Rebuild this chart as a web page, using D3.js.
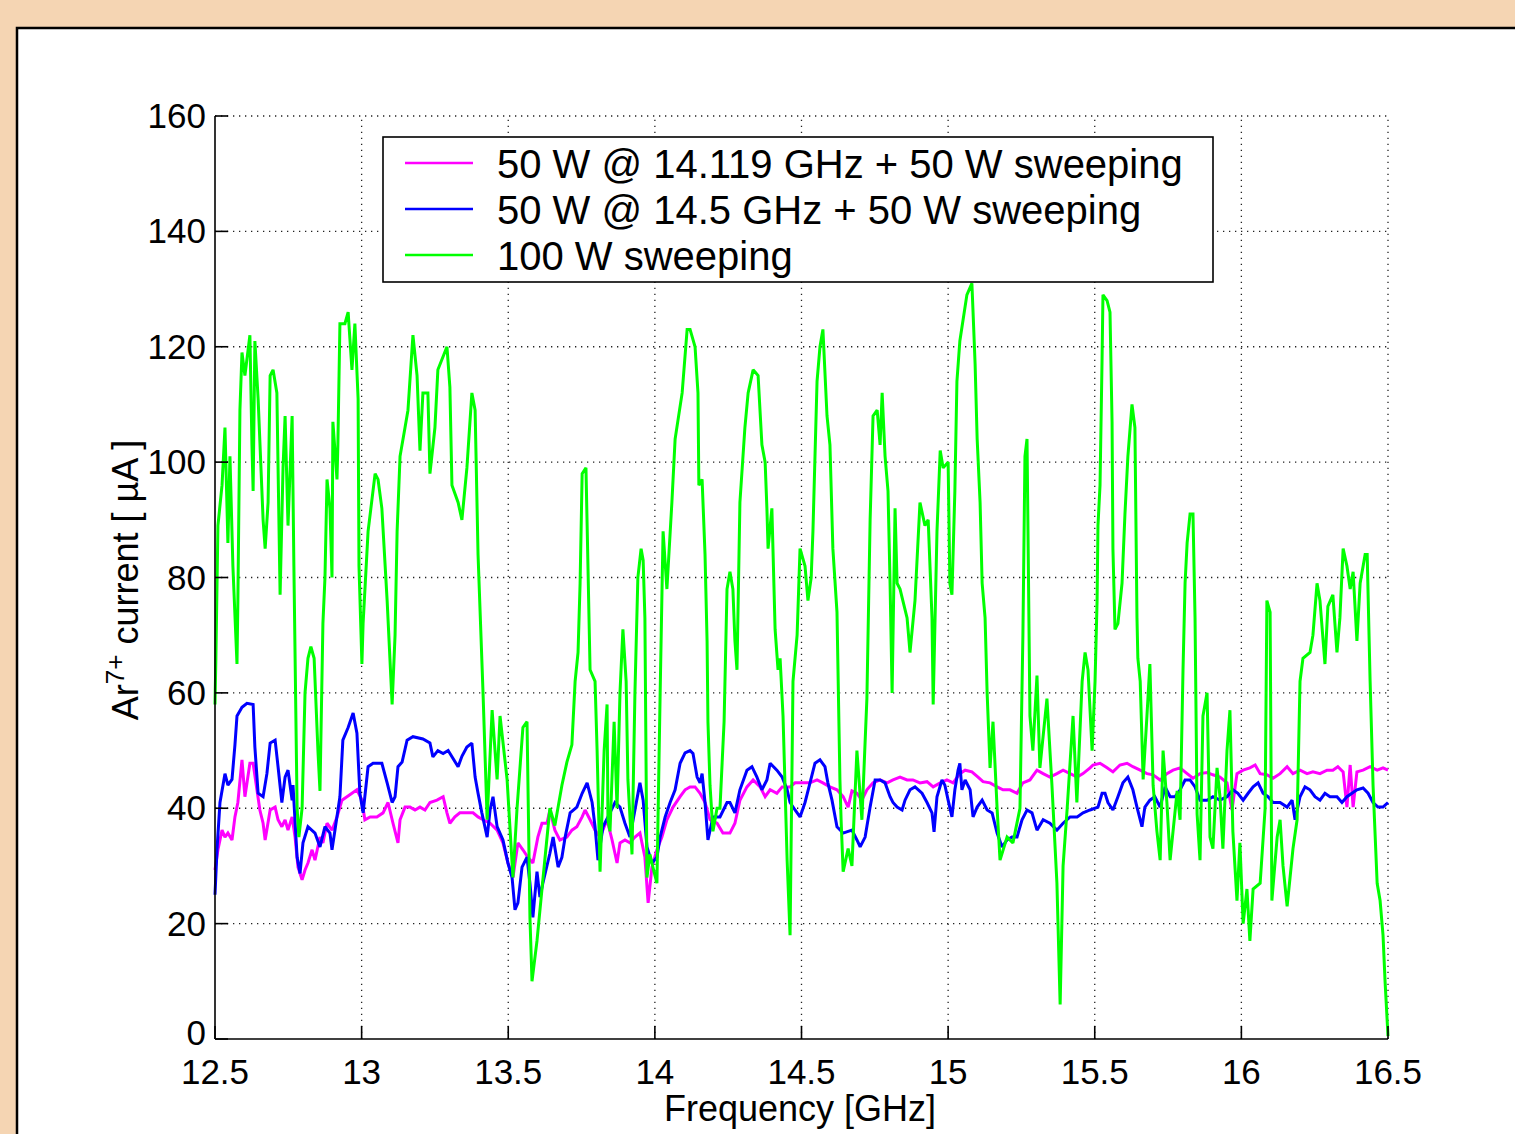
<!DOCTYPE html>
<html><head><meta charset="utf-8">
<script src="https://cdn.jsdelivr.net/npm/d3@7"></script>
<style>body{margin:0;background:#F5D5B3;} svg{display:block;}</style>
</head><body>
<svg id="chart" width="1515" height="1134"></svg>
<script>
// ---------------- DATA ----------------
const xTicks = [12.5, 13, 13.5, 14, 14.5, 15, 15.5, 16, 16.5];
const xTickLabels = ["12.5", "13", "13.5", "14", "14.5", "15", "15.5", "16", "16.5"];
const yTicks = [0, 20, 40, 60, 80, 100, 120, 140, 160];
const yTickLabels = ["0", "20", "40", "60", "80", "100", "120", "140", "160"];
const seriesNames = ["50 W @ 14.119 GHz + 50 W sweeping", "50 W @ 14.5 GHz + 50 W sweeping", "100 W sweeping"];
const seriesColors = ["#FF00FF", "#0000FF", "#00FF00"];

// magenta: 50 W @ 14.119 GHz + 50 W sweeping
const magentaFreq = [12.500,12.510,12.524,12.534,12.544,12.558,12.568,12.578,12.592,12.602,12.619,12.630,12.643,12.653,12.664,12.671,12.688,12.705,12.715,12.728,12.739,12.749,12.763,12.773,12.783,12.797,12.807,12.817,12.831,12.841,12.858,12.868,12.882,12.899,12.916,12.933,12.950,12.967,12.984,13.001,13.011,13.029,13.052,13.073,13.090,13.107,13.124,13.131,13.148,13.165,13.182,13.199,13.216,13.233,13.257,13.278,13.291,13.301,13.318,13.335,13.359,13.380,13.397,13.414,13.438,13.462,13.482,13.499,13.516,13.533,13.550,13.567,13.584,13.601,13.615,13.632,13.642,13.659,13.676,13.700,13.717,13.734,13.752,13.762,13.779,13.796,13.813,13.837,13.854,13.871,13.881,13.898,13.915,13.932,13.949,13.966,13.977,13.990,14.007,14.024,14.041,14.062,14.086,14.103,14.120,14.137,14.154,14.171,14.188,14.212,14.232,14.256,14.273,14.290,14.314,14.335,14.359,14.376,14.393,14.416,14.434,14.461,14.478,14.495,14.529,14.553,14.573,14.597,14.621,14.642,14.659,14.672,14.689,14.706,14.723,14.744,14.768,14.792,14.812,14.836,14.860,14.880,14.904,14.928,14.949,14.973,14.996,15.017,15.040,15.058,15.081,15.102,15.119,15.143,15.167,15.187,15.211,15.235,15.255,15.279,15.303,15.324,15.347,15.371,15.392,15.416,15.440,15.460,15.484,15.494,15.518,15.542,15.562,15.586,15.610,15.630,15.655,15.678,15.699,15.723,15.746,15.767,15.791,15.815,15.835,15.859,15.883,15.903,15.927,15.951,15.968,15.985,16.006,16.029,16.047,16.064,16.087,16.108,16.132,16.156,16.176,16.200,16.224,16.244,16.268,16.292,16.312,16.329,16.347,16.360,16.371,16.381,16.394,16.415,16.439,16.463,16.483,16.500];
const magentaVals = [29.3,32.8,36.2,35,35.7,34.5,38.5,41,48.4,42,47.8,47.8,43.2,39.7,37.4,34.5,39.7,40.2,38,36.8,38,36.2,38.5,35,29.8,27.6,29.3,30.5,32.8,31,35,34,37.4,36.2,38.5,41.4,42,42.6,43.2,41.4,38,38.5,38.5,39.2,41,37.4,34,38,40.2,40.2,39.7,40.2,39.7,41,41.4,42,39.2,37.4,38.5,39.2,39.2,39.2,38.5,38,37.4,36.2,34,30.5,28,34,32.8,31.5,30.5,35,37.4,37.4,39.7,36.2,34.5,35,36.2,36.8,38.5,39.7,38,36.2,35,38,34.5,30.5,34,34.5,34,35,35.7,31.5,23.6,29.8,32.8,35,38,40.2,42,43.2,43.7,43.7,42.6,41,38,37.4,35.7,35.7,37.4,41.4,43.7,44.9,43.7,42,43.2,42.6,43.7,43.7,44.4,44.4,44.4,44.9,44.4,43.7,43.2,42,40.2,43,42.6,41.4,43.2,44.4,44.9,44.4,44.9,45.4,44.9,44.9,44.4,44.6,43.7,44.4,44.9,44.4,46,46.6,46.3,45.4,44.6,44.4,43.7,43.2,43.2,42.6,44.4,44.9,46.6,46,45.4,46,46.6,46,45.4,46,47,47.5,47.8,47,46.3,47.5,47.8,47.2,46.6,46,45.8,44.9,46,46.6,47,46,45.2,46,46.2,45.8,45.4,44.4,39.7,46,46.6,47,47.5,46,45.8,45.2,46,47.2,46,46.6,46,46.3,46,46.6,46.6,47.2,46.3,40.2,47.5,40.2,46.3,46.6,47.2,46.6,47,46.6];

// blue: 50 W @ 14.5 GHz + 50 W sweeping
const blueFreq = [12.500,12.507,12.517,12.534,12.544,12.558,12.568,12.575,12.592,12.609,12.630,12.636,12.647,12.664,12.677,12.688,12.705,12.715,12.728,12.739,12.749,12.763,12.766,12.780,12.790,12.800,12.817,12.841,12.858,12.875,12.892,12.899,12.909,12.926,12.936,12.954,12.971,12.984,12.994,13.005,13.022,13.039,13.069,13.087,13.104,13.114,13.124,13.138,13.155,13.175,13.209,13.233,13.243,13.260,13.278,13.295,13.329,13.342,13.359,13.376,13.387,13.397,13.410,13.428,13.438,13.448,13.462,13.482,13.499,13.513,13.523,13.533,13.547,13.564,13.574,13.584,13.598,13.608,13.618,13.642,13.653,13.670,13.683,13.694,13.711,13.734,13.752,13.769,13.786,13.796,13.806,13.823,13.840,13.864,13.881,13.898,13.915,13.932,13.949,13.960,13.973,13.990,14.007,14.018,14.035,14.052,14.069,14.086,14.103,14.120,14.130,14.144,14.154,14.161,14.171,14.181,14.198,14.222,14.246,14.256,14.273,14.290,14.314,14.331,14.348,14.365,14.382,14.393,14.416,14.434,14.451,14.461,14.478,14.495,14.512,14.529,14.546,14.563,14.580,14.590,14.604,14.621,14.642,14.672,14.689,14.700,14.717,14.734,14.751,14.768,14.785,14.802,14.812,14.826,14.843,14.853,14.870,14.887,14.911,14.928,14.945,14.952,14.962,14.979,14.989,15.000,15.013,15.023,15.034,15.040,15.047,15.058,15.075,15.085,15.099,15.116,15.133,15.150,15.167,15.184,15.201,15.218,15.235,15.252,15.269,15.286,15.303,15.324,15.347,15.371,15.392,15.416,15.440,15.460,15.484,15.511,15.525,15.535,15.545,15.562,15.579,15.596,15.613,15.630,15.644,15.661,15.671,15.688,15.705,15.723,15.740,15.757,15.774,15.791,15.808,15.825,15.842,15.859,15.883,15.903,15.927,15.951,15.971,15.988,16.006,16.023,16.040,16.057,16.074,16.091,16.108,16.132,16.156,16.173,16.183,16.200,16.217,16.234,16.251,16.268,16.285,16.302,16.326,16.343,16.360,16.377,16.394,16.415,16.432,16.449,16.466,16.483,16.500];
const blueVals = [25,33,41,46,44,45,51,56,57.5,58.2,58,50.6,42.6,42,46,51.3,51.8,47.2,41,45.4,46.6,41.4,44,31.5,28.7,34,36.8,35.7,33.3,36.8,35.7,32.8,36.2,42,51.8,54,56.5,53,42.6,39.2,47.2,47.8,47.8,44.4,41,42,47.2,48,51.8,52.4,52,51.3,48.9,50,49.5,50,47.2,49,50.6,51.3,45.4,42.6,39.2,35,39.7,42,36.8,34.5,30.5,28,22.4,23.6,29.8,31.5,27,21.1,29,24.6,27,32.2,35,29.8,31.5,35,39.2,40.2,42.6,44.4,41,36.8,31,36.8,38.5,41,40.2,37.4,35,39.7,44.4,41.4,33.3,30.5,31.5,35,38.5,41,43.2,47.8,49.6,50,49.5,45.4,44.4,46,41,34.5,38.5,38.5,41,41,39.2,43.2,46.6,47.2,45.4,43.2,44.9,47.8,46.6,45.4,43.2,41,39.7,38.5,41,44.4,47.8,48.4,47.2,44.4,41.4,36.8,35.7,36.2,34.5,33.3,35,40.2,44.9,44.9,44.4,42,41,40.2,39.7,41.4,43.2,43.7,42.6,41,39.2,35.9,42,44.9,44,41.4,38.5,43.2,46.6,47.8,43.2,44.9,43.2,38.5,40.2,41.4,39.7,39.2,35.7,33.3,34.5,35,35,38,39.7,39.2,36.2,38,37.4,36.2,37.4,38.5,38.5,39.2,39.7,40.2,42.6,42.6,41,39.7,42,44.4,45.4,43.2,40.2,36.8,40.2,41.4,42,40.2,43.7,42,42,43.2,44.9,44.9,43.7,41.4,41.4,42,41.4,42,43.2,42.6,41.4,42.6,43.7,44.4,42.6,42,41,41,40.2,41.4,38,42,43.7,43.2,42,41.4,42.6,42,42,41,42,42.6,43.2,43.5,42.6,41,40.2,40.2,41];

// green: 100 W sweeping
const greenFreq = [12.500,12.503,12.510,12.524,12.534,12.544,12.551,12.561,12.575,12.578,12.585,12.592,12.602,12.619,12.626,12.630,12.636,12.647,12.664,12.671,12.681,12.688,12.698,12.711,12.722,12.732,12.739,12.749,12.763,12.769,12.780,12.786,12.797,12.807,12.817,12.827,12.838,12.851,12.858,12.868,12.875,12.882,12.892,12.899,12.902,12.916,12.919,12.926,12.943,12.954,12.967,12.977,12.988,12.991,13.001,13.005,13.022,13.046,13.056,13.069,13.087,13.104,13.114,13.121,13.131,13.148,13.158,13.175,13.189,13.199,13.209,13.226,13.233,13.250,13.260,13.291,13.301,13.308,13.329,13.342,13.359,13.376,13.387,13.397,13.414,13.428,13.445,13.462,13.472,13.496,13.516,13.530,13.550,13.564,13.574,13.581,13.598,13.615,13.642,13.659,13.683,13.700,13.717,13.728,13.738,13.745,13.752,13.765,13.769,13.779,13.796,13.803,13.813,13.827,13.837,13.840,13.847,13.861,13.871,13.881,13.891,13.902,13.908,13.922,13.932,13.942,13.953,13.960,13.966,13.973,13.983,13.997,14.007,14.018,14.028,14.041,14.058,14.069,14.093,14.110,14.120,14.137,14.147,14.150,14.161,14.171,14.178,14.181,14.188,14.198,14.212,14.222,14.236,14.246,14.256,14.266,14.273,14.280,14.290,14.307,14.318,14.335,14.352,14.365,14.376,14.382,14.386,14.399,14.410,14.420,14.427,14.437,14.451,14.461,14.471,14.485,14.495,14.512,14.522,14.533,14.539,14.553,14.563,14.573,14.587,14.597,14.607,14.621,14.631,14.635,14.642,14.659,14.672,14.689,14.706,14.723,14.734,14.744,14.758,14.768,14.775,14.785,14.795,14.802,14.809,14.819,14.826,14.836,14.860,14.870,14.887,14.904,14.921,14.932,14.945,14.949,14.962,14.973,14.983,15.000,15.006,15.013,15.023,15.030,15.040,15.064,15.081,15.085,15.092,15.099,15.109,15.116,15.126,15.133,15.143,15.153,15.167,15.177,15.201,15.221,15.245,15.255,15.262,15.269,15.279,15.289,15.303,15.313,15.337,15.354,15.371,15.382,15.392,15.406,15.426,15.439,15.457,15.467,15.477,15.491,15.501,15.508,15.511,15.518,15.525,15.528,15.542,15.552,15.559,15.562,15.569,15.579,15.593,15.603,15.613,15.627,15.637,15.644,15.647,15.655,15.665,15.678,15.688,15.699,15.712,15.723,15.733,15.746,15.757,15.781,15.791,15.801,15.808,15.815,15.825,15.835,15.842,15.849,15.859,15.869,15.883,15.893,15.903,15.917,15.927,15.937,15.951,15.961,15.971,15.985,15.995,16.006,16.019,16.029,16.040,16.064,16.081,16.087,16.098,16.104,16.122,16.132,16.142,16.156,16.166,16.176,16.190,16.200,16.210,16.234,16.244,16.258,16.268,16.285,16.295,16.312,16.326,16.336,16.347,16.360,16.371,16.381,16.394,16.405,16.422,16.429,16.439,16.449,16.463,16.473,16.483,16.490,16.500];
const greenVals = [58,66,89,96,106,86,101,82,65,76,109,119,115,122,103,95,121,111,90,85,93,115,116,112,77,99,108,89,108,82,40,35,40,60,66,68,66,50,43,72,80,97,92,80,107,97,103,124,124,126,116,124,111,82,65,72,88,98,97,92,76,58,70,88,101,106,109,122,115,102,112,112,98,106,116,120,113,96,93,90,99,112,109,84,60,38,57,45,56,45,28,40,54,55,21,10,17,26,40,37,44,48,51,62,67,79,98,99,89,64,62,50,29,50,58,38,36,55,40,60,71,62,45,32,60,80,85,83,73,28,32,29,27,60,88,78,93,104,112,123,123,120,112,96,97,84,69,55,44,36,40,40,55,78,81,78,69,64,93,106,112,116,115,103,100,92,85,92,71,64,66,56,31,18,62,70,85,82,76,80,88,114,120,123,108,103,85,74,45,38,29,33,30,50,38,59,90,108,109,103,112,101,95,79,60,92,79,78,73,67,76,93,89,90,73,58,88,102,99,100,79,77,95,114,121,129,131,126,117,104,93,79,73,60,47,55,40,31,35,34,40,70,101,104,56,50,63,47,59,44,27,6,30,40,56,41,62,67,64,50,62,76,89,96,118,129,128,126,107,85,71,72,79,91,101,110,106,73,66,62,45,56,65,44,36,31,50,41,31,43,38,64,79,86,91,91,73,39,31,56,60,35,33,47,42,33,50,57,36,24,34,20,26,17,26,27,40,76,74,24,35,38,30,23,28,33,38,62,66,67,70,79,76,65,75,77,67,73,85,82,78,81,69,79,84,84,62,44,27,24,18,10,0.5];

// ---------------- CHART ----------------
const svg = d3.select("#chart");
const FONT = "'Liberation Sans', Arial, Helvetica, sans-serif";

// white panel with black frame
svg.append("rect").attr("x", 17).attr("y", 28).attr("width", 1600).attr("height", 1200)
  .attr("fill", "#fff").attr("stroke", "#000").attr("stroke-width", 2.5);

const x = d3.scaleLinear().domain([12.5, 16.5]).range([215, 1388]);
const y = d3.scaleLinear().domain([0, 160]).range([1039, 116]);

// grid
const grid = svg.append("g").attr("stroke", "#222").attr("stroke-width", 1.3)
  .attr("stroke-dasharray", "1.3,4.7");
grid.selectAll(".gx").data(xTicks.slice(1)).join("line")
  .attr("x1", d => x(d)).attr("x2", d => x(d)).attr("y1", y(0)).attr("y2", y(160));
grid.selectAll(".gy").data(yTicks.slice(1)).join("line")
  .attr("x1", x(12.5)).attr("x2", x(16.5)).attr("y1", d => y(d)).attr("y2", d => y(d));

// series
const line = d3.line().x(d => x(d[0])).y(d => y(d[1]));
const series = [
  {f: magentaFreq, v: magentaVals, c: seriesColors[0]},
  {f: blueFreq, v: blueVals, c: seriesColors[1]},
  {f: greenFreq, v: greenVals, c: seriesColors[2]}
];
series.forEach(s => {
  svg.append("path").datum(s.f.map((f, i) => [f, s.v[i]]))
    .attr("d", line).attr("fill", "none").attr("stroke", s.c)
    .attr("stroke-width", 3).attr("stroke-linejoin", "miter").attr("stroke-miterlimit", 2);
});

// axes lines
svg.append("line").attr("x1", x(12.5)).attr("x2", x(12.5)).attr("y1", y(0)).attr("y2", y(160))
  .attr("stroke", "#000").attr("stroke-width", 1.6);
svg.append("line").attr("x1", x(12.5)).attr("x2", x(16.5)).attr("y1", y(0)).attr("y2", y(0))
  .attr("stroke", "#000").attr("stroke-width", 1.6);

// ticks (inward)
svg.selectAll(".tx").data(xTicks).join("line")
  .attr("x1", d => x(d)).attr("x2", d => x(d)).attr("y1", y(0)).attr("y2", y(0) - 13)
  .attr("stroke", "#000").attr("stroke-width", 1.6);
svg.selectAll(".ty").data(yTicks).join("line")
  .attr("x1", x(12.5)).attr("x2", x(12.5) + 13).attr("y1", d => y(d)).attr("y2", d => y(d))
  .attr("stroke", "#000").attr("stroke-width", 1.6);

// tick labels
svg.selectAll(".lx").data(xTicks).join("text")
  .attr("x", d => x(d)).attr("y", 1084).attr("text-anchor", "middle")
  .attr("font-family", FONT).attr("font-size", 35).attr("fill", "#000")
  .text((d, i) => xTickLabels[i]);
svg.selectAll(".ly").data(yTicks).join("text")
  .attr("x", 206).attr("y", d => y(d) + (d === 0 ? 6 : 12)).attr("text-anchor", "end")
  .attr("font-family", FONT).attr("font-size", 35).attr("fill", "#000")
  .text((d, i) => yTickLabels[i]);

// axis titles
svg.append("text").attr("x", 800).attr("y", 1121).attr("text-anchor", "middle")
  .attr("font-family", FONT).attr("font-size", 36).attr("fill", "#000")
  .text("Frequency [GHz]");
const yl = svg.append("text").attr("transform", "translate(138,580) rotate(-90)")
  .attr("text-anchor", "middle").attr("font-family", FONT).attr("font-size", 36).attr("fill", "#000");
yl.append("tspan").text("Ar");
yl.append("tspan").attr("font-size", 26).attr("dy", -14).text("7+");
yl.append("tspan").attr("dy", 14).text(" current [ \u00B5A ]");

// legend
const lg = svg.append("g");
lg.append("rect").attr("x", 383).attr("y", 137).attr("width", 830).attr("height", 145)
  .attr("fill", "#fff").attr("stroke", "#000").attr("stroke-width", 1.6);
seriesNames.forEach((n, i) => {
  const yy = 163 + i * 46;
  lg.append("line").attr("x1", 405).attr("x2", 473).attr("y1", yy).attr("y2", yy)
    .attr("stroke", seriesColors[i]).attr("stroke-width", 2.6);
  lg.append("text").attr("x", 497).attr("y", yy + 15).attr("font-family", FONT)
    .attr("font-size", 40).attr("fill", "#000").text(n);
});
</script>
</body></html>
